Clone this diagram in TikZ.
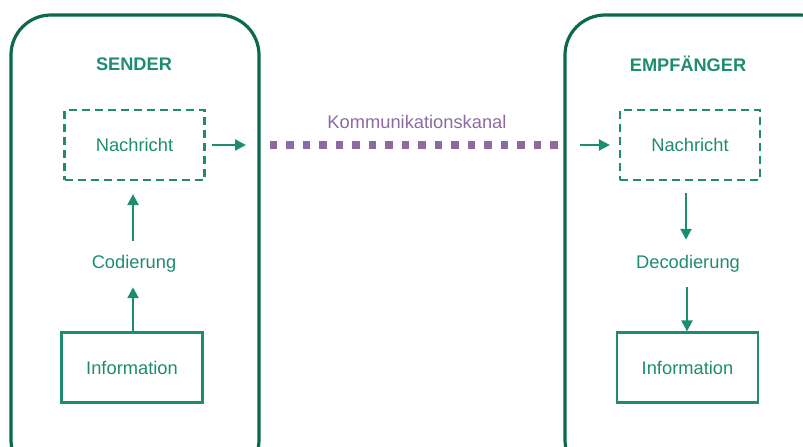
\documentclass[tikz,border=0pt]{standalone}
\usepackage{fontspec}
\setmainfont{Liberation Sans}
\usetikzlibrary{arrows.meta}
\definecolor{tgreen}{RGB}{30,140,112}
\definecolor{dgreen}{RGB}{12,104,78}
\definecolor{kpurple}{RGB}{142,106,160}
\tikzset{
  lbl/.style={text=tgreen, font=\fontsize{18.3}{20}\selectfont, inner sep=0pt},
  title/.style={text=tgreen, font=\fontsize{18.2}{20}\selectfont\bfseries, inner sep=0pt},
  msgbox/.style={draw=tgreen, line width=2.2pt, dash pattern=on 8pt off 5pt, minimum width=140pt, minimum height=70pt, text=tgreen, font=\fontsize{18.3}{20}\selectfont, inner sep=0pt},
  infobox/.style={draw=tgreen, line width=2.2pt, minimum width=141pt, minimum height=70pt, text=tgreen, font=\fontsize{18.3}{20}\selectfont, inner sep=0pt},
  container/.style={draw=dgreen, line width=3.2pt, rounded corners=40pt},
  arr/.style={draw=tgreen, line width=2.2pt, -{Triangle[length=11pt,width=11pt]}},
  channel/.style={draw=kpurple, line width=7.5pt, dash pattern=on 7.5pt off 9pt}
}
\begin{document}
\begin{tikzpicture}[x=1pt,y=-1pt]
\useasboundingbox (0,0) rectangle (803,447);
\clip (0,0) rectangle (803,447);
% containers
\draw[container] (11,15) rectangle (259,480);
\draw[container] (565,15) rectangle (840,480);
% sender
\node[title] (sender) at (134,64) {SENDER};
\node[msgbox] (snach) at (134.5,145) {Nachricht};
\node[lbl] (cod) at (134,264) {Codierung};
\node[infobox] (sinfo) at (132,367.5) {Information};
% receiver
\node[title] (empf) at (688,64) {EMPFÄNGER};
\node[msgbox] (rnach) at (690,145) {Nachricht};
\node[lbl] (dec) at (688,264) {Decodierung};
\node[infobox] (rinfo) at (687.5,367.5) {Information};
% channel
\node[text=kpurple, font=\fontsize{18.3}{20}\selectfont, inner sep=0pt] (kanal) at (417,122) {Kommunikationskanal};
\coordinate (sout) at (246,145);
\coordinate (rin) at (580,145);
\coordinate (ch1) at (269.5,145);
\coordinate (ch2) at (558,145);
\draw[channel] (ch1) -- (ch2);
% arrows
\draw[arr] ([xshift=6pt]snach.east) -- (sout);
\draw[arr] (rin) -- ([xshift=-9pt]rnach.west);
\draw[arr] (sinfo.north -| 133,0) -- ([yshift=-14.5pt]cod.south -| 133,0);
\draw[arr] ([yshift=14.5pt]cod.north -| 133,0) -- ([yshift=-13pt]snach.south -| 133,0);
\draw[arr] ([yshift=-12pt]rnach.south -| 686,0) -- ([yshift=15.5pt]dec.north -| 686,0);
\draw[arr] ([yshift=-14.5pt]dec.south -| 687,0) -- (rinfo.north -| 687,0);
\end{tikzpicture}
\end{document}
